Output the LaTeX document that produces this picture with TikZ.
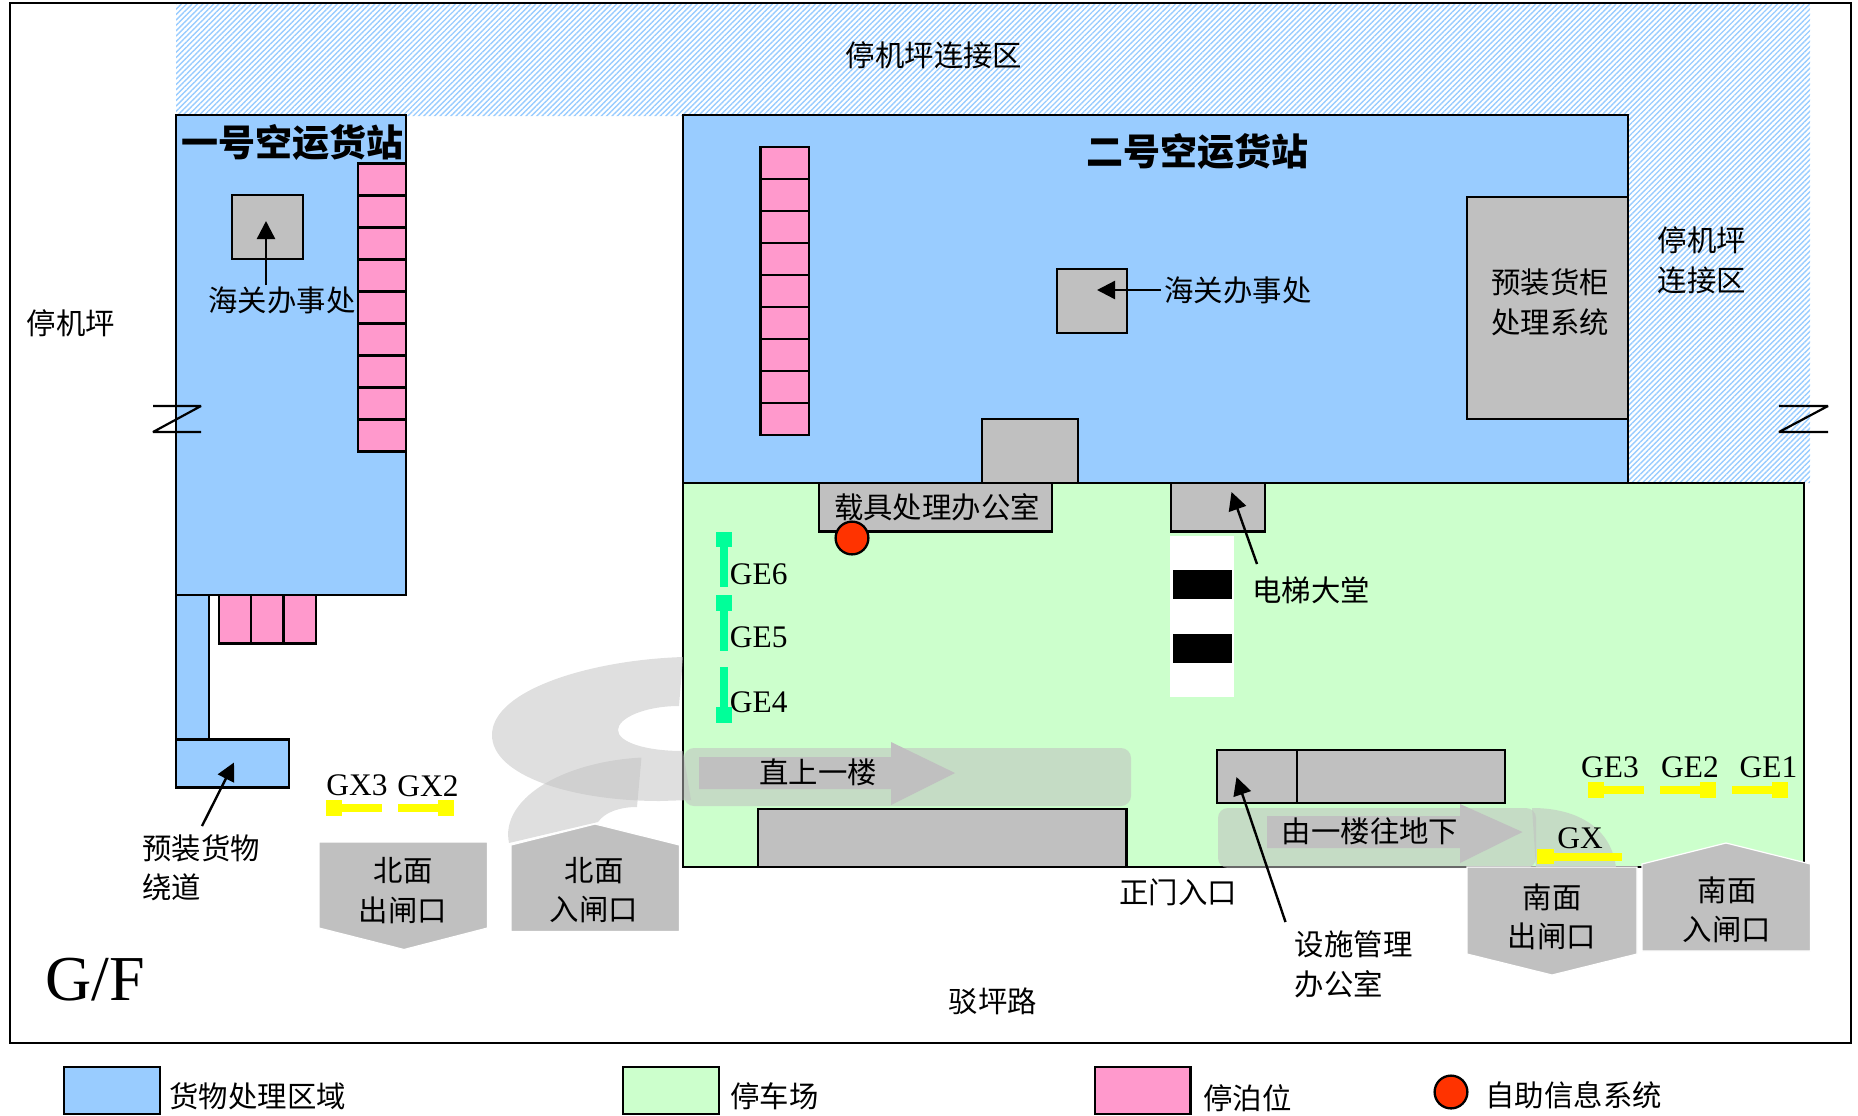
\documentclass[tikz,border=0pt]{standalone}
\usepackage{fontspec}
\setmainfont{Liberation Serif}
\newfontfamily\cjk{Noto Sans CJK SC}
\usetikzlibrary{arrows.meta,patterns.meta}
\definecolor{cblue}{HTML}{99CCFF}
\definecolor{cgreen}{HTML}{CCFFCC}
\definecolor{cpink}{HTML}{FF99CC}
\definecolor{cgray}{HTML}{C0C0C0}
\definecolor{cyel}{HTML}{FFFF00}
\definecolor{cteal}{HTML}{00FF99}
\definecolor{cred}{HTML}{FF3300}
\tikzset{
  edge/.style={draw=black,line width=1.15pt},
  blue area/.style={edge,fill=cblue},
  green area/.style={edge,fill=cgreen},
  pink cell/.style={edge,fill=cpink},
  gray box/.style={edge,fill=cgray},
  gate/.style={fill=cgray,draw=white,line width=0.6pt},
  ramp/.style={fill=cgray,fill opacity=0.5},
  lane/.style={fill=cgray,fill opacity=0.55},
  block/.style={fill=cgray},
  yel/.style={fill=cyel},
  teal/.style={fill=cteal},
  info/.style={edge,fill=cred},
  hatch/.style={pattern={Lines[angle=45,distance=1.9pt,line width=0.7pt]},pattern color=cblue},
  leader/.style={draw=black,line width=1.2pt,-{Triangle[length=9pt,width=9pt]}},
  breakz/.style={draw=black,line width=1.1pt,line join=bevel},
  zh/.style={inner sep=0pt,font=\cjk\fontsize{14.7}{16}\selectfont},
  zhb/.style={inner sep=0pt,font=\cjk\bfseries\fontsize{18.5}{20}\selectfont},
  en/.style={inner sep=0pt,font=\fontsize{15.7}{17}\selectfont},
}
\begin{document}
\begin{tikzpicture}[x=0.5pt,y=-0.5pt]
\useasboundingbox (0,0) rectangle (1858,1115);
% hatched apron link
\path[hatch] (176,4) -- (1810,4) -- (1810,483) -- (1628,483) -- (1628,116) -- (176,116) -- cycle;
\draw[edge] (10,3) rectangle (1851,1043);
% ramps north
\path[ramp] (509,843) .. controls (500,800) and (560,762) .. (641.5,757.5) -- (637,807) .. controls (620,807) and (605,812) .. (598,822) -- cycle;
% cargo terminal 1
\draw[blue area] (176,115) rectangle (406,595);
\foreach \i in {0,...,8} \draw[pink cell] (358,163.5+32*\i) rectangle (406,195.5+32*\i);
\draw[gray box] (232,195) rectangle (303,259);
\draw[blue area] (176,595) rectangle (209,739.5);
\draw[blue area] (176,739.5) rectangle (289,787.5);
\foreach \i in {0,1,2} \draw[pink cell] (219+32.3*\i,595) rectangle (251.3+32.3*\i,643.5);
% cargo terminal 2
\draw[blue area] (683,115) rectangle (1628,483);
\foreach \i in {0,...,8} \draw[pink cell] (760.5,147+32*\i) rectangle (809,179+32*\i);
\draw[gray box] (1057,269) rectangle (1127,333);
\draw[gray box] (1467,197) rectangle (1628,419);
\draw[gray box] (982,419) rectangle (1078,483);
% car park
\draw[green area] (683,483) rectangle (1804,867);
\path[ramp] (683,657) .. controls (590,660) and (492,690) .. (492,735) .. controls (492,775) and (570,801) .. (660,801) -- (691,800) -- (683,751) .. controls (645,751) and (618,742) .. (618,730) .. controls (618,718) and (645,706) .. (679,706) -- cycle;
\draw[gray box] (819,483) rectangle (1052,531.5);
\draw[gray box] (1171,483) rectangle (1265,531.5);
\fill[white] (1170,536) rectangle (1234,697);
\fill[black] (1173,570) rectangle (1232,599);
\fill[black] (1173,634) rectangle (1232,663);
\draw[info] (852,538) circle[radius=8.2pt];
\draw[gray box] (758,809) rectangle (1126.5,867);
\draw[gray box] (1217,750) rectangle (1505,803);
\draw[edge] (1297,750) -- (1297,803);
% lanes and block arrows
\path[lane,rounded corners=5pt] (684,748) rectangle (1131,806);
\fill[block] (699,757) -- (891,757) -- (891,742) -- (955,773) -- (891,805) -- (891,789) -- (699,789) -- cycle;
\path[lane,rounded corners=5pt] (1536,808) -- (1218,808) -- (1218,868) -- (1536,868) -- cycle;
\path[lane] (1532,808) .. controls (1580,808) and (1612,830) .. (1616,868) -- (1536,868) -- cycle;
\fill[block] (1267,816) -- (1460,816) -- (1460,804) -- (1522.5,832) -- (1460,863) -- (1460,848) -- (1267,848) -- cycle;
% gates
\draw[gate] (319,842) -- (487.5,842) -- (487.5,928) -- (404,949.5) -- (319,928) -- cycle;
\draw[gate] (511,845) -- (595,824) -- (679.5,845) -- (679.5,931.5) -- (511,931.5) -- cycle;
\draw[gate] (1467,867) -- (1637,867) -- (1637,954) -- (1552,975) -- (1467,954) -- cycle;
\draw[gate] (1642,864) -- (1726,843) -- (1810.5,864) -- (1810.5,951) -- (1642,951) -- cycle;
% barriers
\fill[yel] (326,804) rectangle (382,812); \fill[yel] (326,800) rectangle (342,815.5);
\fill[yel] (398,804) rectangle (454,812); \fill[yel] (438,800) rectangle (454,815.5);
\fill[yel] (1587.5,786) rectangle (1643.5,794); \fill[yel] (1587.5,782) rectangle (1604,798);
\fill[yel] (1660,786) rectangle (1716,794); \fill[yel] (1700,782) rectangle (1716,798);
\fill[yel] (1732,786) rectangle (1788,794); \fill[yel] (1772,782) rectangle (1788,798);
\fill[yel] (1537,853) rectangle (1622,861); \fill[yel] (1537,849) rectangle (1553.5,864);
\fill[teal] (720,532) rectangle (728,587); \fill[teal] (715.5,532) rectangle (731.5,547);
\fill[teal] (720,595) rectangle (728,651); \fill[teal] (715.5,595) rectangle (731.5,611);
\fill[teal] (720,667) rectangle (728,723); \fill[teal] (715.5,707) rectangle (731.5,723);
% break marks
\draw[breakz] (153,406) -- (201,406) -- (153,432) -- (201,432);
\draw[breakz] (1779,406) -- (1828,406) -- (1779,432) -- (1828,432);
% texts
\node[zh] (t1) at (934,55) {停机坪连接区};
\node[zhb] (t2) at (292,143) {一号空运货站};
\node[zhb] (t3) at (1197,152) {二号空运货站};
\node[zh] (t4) at (71,323) {停机坪};
\node[zh] (t5) at (282,300) {海关办事处};
\node[zh] (t6) at (1238,290) {海关办事处};
\node[zh] (t7) at (1550,282) {预装货柜};
\node[zh] (t8) at (1550,322) {处理系统};
\node[zh] (t9) at (1702,240) {停机坪};
\node[zh] (t10) at (1702,280) {连接区};
\node[zh] (t11) at (937,507) {载具处理办公室};
\node[zh] (t12) at (1311,590) {电梯大堂};
\node[zh,anchor=west] (t13) at (142,848.5) {预装货物};
\node[zh,anchor=west] (t14) at (142,887) {绕道};
\node[zh] (t15) at (403,871) {北面};
\node[zh] (t16) at (403,910) {出闸口};
\node[zh] (t17) at (594,871) {北面};
\node[zh] (t18) at (594,910) {入闸口};
\node[zh] (t19) at (818,772) {直上一楼};
\node[zh] (t20) at (1370,831) {由一楼往地下};
\node[zh] (t21) at (1178,892) {正门入口};
\node[zh,anchor=west] (t22) at (1294.5,944) {设施管理};
\node[zh,anchor=west] (t23) at (1294.5,984) {办公室};
\node[zh] (t24) at (1552,897) {南面};
\node[zh] (t25) at (1552,936) {出闸口};
\node[zh] (t26) at (1727,890) {南面};
\node[zh] (t27) at (1727,930) {入闸口};
\node[zh] (t28) at (993,1001) {驳坪路};
\node[zh,anchor=west] (t29) at (169,1096) {货物处理区域};
\node[zh,anchor=west] (t30) at (730,1096) {停车场};
\node[zh,anchor=west] (t31) at (1203,1098) {停泊位};
\node[zh,anchor=west] (t32) at (1485,1095) {自助信息系统};
\node[en] (e1) at (357,785) {GX3};
\node[en] (e2) at (428,786) {GX2};
\node[en,anchor=west] (e3) at (729.5,574) {GE6};
\node[en,anchor=west] (e4) at (729.5,637) {GE5};
\node[en,anchor=west] (e5) at (729.5,702) {GE4};
\node[en] (e6) at (1610,767) {GE3};
\node[en] (e7) at (1690,767) {GE2};
\node[en] (e8) at (1768.5,767) {GE1};
\node[en] (e9) at (1580,838) {GX};
\node[inner sep=0pt,font=\fontsize{32}{36}\selectfont] (gf) at (95,980) {G/F};
% leaders
\coordinate (a1s) at (266,285); \coordinate (a1e) at (266,221);
\coordinate (a2s) at (1161,290); \coordinate (a2e) at (1097,290);
\coordinate (a3s) at (202,826); \coordinate (a3e) at (234,762.5);
\coordinate (a4s) at (1257,564); \coordinate (a4e) at (1231.5,492);
\coordinate (a5s) at (1285.5,922); \coordinate (a5e) at (1236.5,777);
\draw[leader] (a1s) -- (a1e);
\draw[leader] (a2s) -- (a2e);
\draw[leader] (a3s) -- (a3e);
\draw[leader] (a4s) -- (a4e);
\draw[leader] (a5s) -- (a5e);
% legend
\draw[blue area] (64,1067) rectangle (160,1114);
\draw[green area] (623,1067) rectangle (719,1114);
\draw[pink cell] (1095,1067) rectangle (1190.5,1114);
\draw[info] (1451,1092) circle[radius=8.2pt];
\end{tikzpicture}
\end{document}
